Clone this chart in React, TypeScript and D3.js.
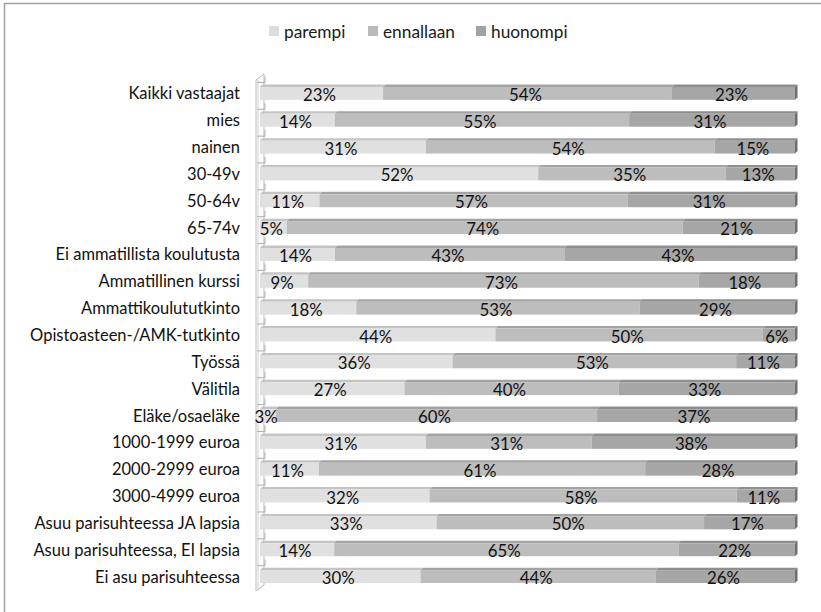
import React from "react";
import * as d3 from "d3";

const categories = [
  "Kaikki vastaajat",
  "mies",
  "nainen",
  "30-49v",
  "50-64v",
  "65-74v",
  "Ei ammatillista koulutusta",
  "Ammatillinen kurssi",
  "Ammattikoulututkinto",
  "Opistoasteen-/AMK-tutkinto",
  "Työssä",
  "Välitila",
  "Eläke/osaeläke",
  "1000-1999 euroa",
  "2000-2999 euroa",
  "3000-4999 euroa",
  "Asuu parisuhteessa JA lapsia",
  "Asuu parisuhteessa, EI lapsia",
  "Ei asu parisuhteessa",
];

const seriesNames = ["parempi", "ennallaan", "huonompi"];
const parempi = [23, 14, 31, 52, 11, 5, 14, 9, 18, 44, 36, 27, 3, 31, 11, 32, 33, 14, 30];
const ennallaan = [54, 55, 54, 35, 57, 74, 43, 73, 53, 50, 53, 40, 60, 31, 61, 58, 50, 65, 44];
const huonompi = [23, 31, 15, 13, 31, 21, 43, 18, 29, 6, 11, 33, 37, 38, 28, 11, 17, 22, 26];

const frontColors = ["#e0e0e0", "#bdbdbd", "#a6a6a6"];
const topColors = ["#c4c4c4", "#a3a3a3", "#8e8e8e"];
const legendColors = ["#dddddd", "#bababa", "#a2a2a2"];

const W = 821;
const H = 612;
const FONT = "Lato, 'Open Sans', sans-serif";

export default function App() {
  const rows = categories.map((c, i) => ({
    cat: c,
    parempi: parempi[i],
    ennallaan: ennallaan[i],
    huonompi: huonompi[i],
  }));
  const stack = d3.stack<any>().keys(seriesNames).offset(d3.stackOffsetExpand);
  const stacked = stack(rows);

  const x = d3.scaleLinear().domain([0, 1]).range([260, 795]);
  const y = d3.scaleBand().domain(categories).range([80, 590]).paddingInner(0.52).paddingOuter(0.26);
  const bh = y.bandwidth();
  const dx = 2.5;
  const dy = 2.5;

  const wallX = 256;
  const wallTop = 80;
  const wallBot = 591;
  const wd = 8;
  const wdy = 6;

  const values = [parempi, ennallaan, huonompi];

  return (
    <svg width={W} height={H} style={{ position: "absolute", left: 0, top: 0, background: "#fff" }}>
      {/* outer border */}
      <line x1={4.5} y1={3} x2={4.5} y2={H} stroke="#a0a0a0" strokeWidth={1.5} />
      <line x1={4} y1={3.5} x2={W} y2={3.5} stroke="#a0a0a0" strokeWidth={1.5} />

      {/* legend */}
      {seriesNames.map((s, i) => {
        const lx = [269, 368, 476][i];
        return (
          <g key={s}>
            <rect x={lx} y={26} width={10} height={10} fill={legendColors[i]} />
            <text x={lx + 15} y={31} dominantBaseline="central" fontFamily={FONT} fontSize={17.3} fill="#1a1a1a">
              {s}
            </text>
          </g>
        );
      })}

      {/* wall */}
      <polygon
        points={`${wallX},${wallBot} ${wallX},${wallTop} ${wallX + wd},${wallTop - wdy} ${wallX + wd},${wallBot - wdy}`}
        fill="#fafafa"
        stroke="#bdbdbd"
        strokeWidth={1}
      />
      <line x1={wallX + 2} y1={wallTop} x2={wallX + 2} y2={wallBot} stroke="#d6d6d6" strokeWidth={1} />

      {/* category ticks (L shapes) */}
      {categories.map((c) => {
        const ty = (y(c) as number) - dy - 2;
        return (
          <g key={"t" + c} stroke="#b0b0b0" strokeWidth={1} fill="none">
            <polyline points={`${wallX + 1},${ty} ${wallX + 9},${ty} ${wallX + 9},${ty - 6}`} />
          </g>
        );
      })}

      {/* bars */}
      {stacked.map((layer, si) =>
        layer.map((d, i) => {
          const cat = categories[i];
          const y0 = y(cat) as number;
          const x0 = x(d[0]);
          const x1 = x(d[1]);
          return (
            <g key={si + "-" + i}>
              <polygon
                points={`${x0},${y0} ${x1},${y0} ${x1 + dx},${y0 - dy} ${x0 + dx},${y0 - dy}`}
                fill={topColors[si]}
              />
              <rect x={x0} y={y0} width={Math.max(0, x1 - x0)} height={bh} fill={frontColors[si]} />
              {si === 2 && (
                <polygon
                  points={`${x1},${y0} ${x1 + dx},${y0 - dy} ${x1 + dx},${y0 + bh - dy} ${x1},${y0 + bh}`}
                  fill="#6e6e6e"
                />
              )}
            </g>
          );
        })
      )}

      {/* value labels */}
      {stacked.map((layer, si) =>
        layer.map((d, i) => {
          const cat = categories[i];
          const cy = (y(cat) as number) + bh / 2 + 1;
          const cx = (x(d[0]) + x(d[1])) / 2 - 2;
          return (
            <text
              key={"v" + si + "-" + i}
              x={cx}
              y={cy}
              textAnchor="middle"
              dominantBaseline="central"
              fontFamily={FONT}
              fontSize={16.8}
              fill="#111"
            >
              {values[si][i] + "%"}
            </text>
          );
        })
      )}

      {/* category labels */}
      {categories.map((c) => (
        <text
          key={"c" + c}
          x={240}
          y={(y(c) as number) + bh / 2}
          textAnchor="end"
          dominantBaseline="central"
          fontFamily={FONT}
          fontSize={16.5}
          fill="#111"
        >
          {c}
        </text>
      ))}
    </svg>
  );
}
